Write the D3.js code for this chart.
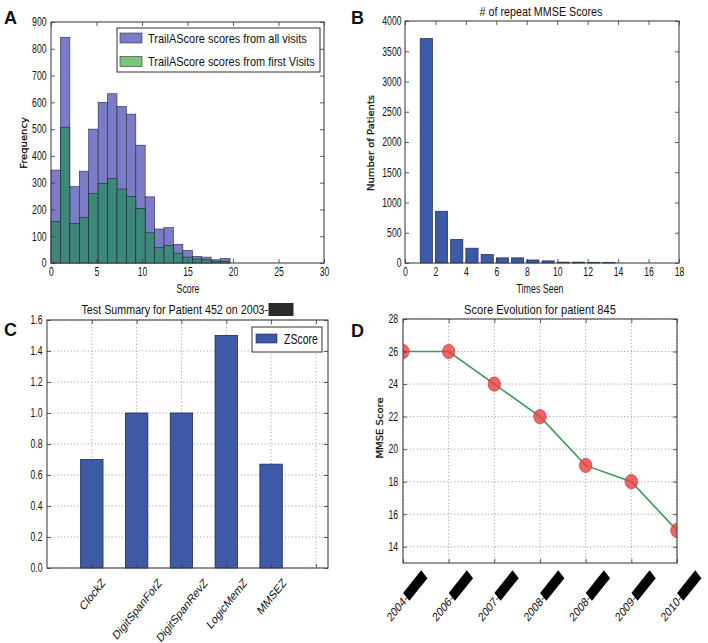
<!DOCTYPE html>
<html><head><meta charset="utf-8">
<script src="https://cdn.jsdelivr.net/npm/d3@7"></script>
<style>body{margin:0;background:#fff}svg{display:block}</style>
</head><body>
<svg id="chart" width="708" height="643"></svg>
<script>
// ---------------- DATA ----------------
const histEdges = [0,1.04,2.07,3.11,4.14,5.18,6.21,7.25,8.28,9.32,10.35,11.39,12.42,13.46,14.49,15.53,16.56,17.6,18.63,19.67];
const allVisits = [347,843,285,343,500,600,632,585,556,440,247,127,132,70,47,25,22,12,17];
const firstVisits = [155,507,148,170,260,297,316,276,248,204,113,57,66,37,22,15,12,7,7];
const histLegend = ["TrailAScore scores from all visits","TrailAScore scores from first Visits"];

const timesSeen = [1,2,3,4,5,6,7,8,9,10,11,12,13];
const patientCounts = [3710,855,390,245,140,85,85,50,35,15,15,12,10];

const tests = ["ClockZ","DigitSpanForZ","DigitSpanRevZ","LogicMemZ","MMSEZ"];
const zScores = [0.70,1.00,1.00,1.50,0.67];

const visitDates = ["2004-","2006-","2007-","2008-","2008-","2009-","2010-"];
const mmseScores = [26,26,24,22,19,18,15];

// ---------------- STYLE ----------------
const SANS = "'Liberation Sans',Arial,sans-serif";
const WIDE = "'DejaVu Sans',sans-serif";
const SX = 0.72;     // horizontal squash of the original figure
const RSX = 0.8;     // squash applied to rotated labels
const svg = d3.select("#chart");

function sqText(g, txt, x, y, size, anchor, target) {
  const t = g.append("text").attr("text-anchor", anchor).text(txt)
    .attr("font-family", SANS).attr("font-size", size + "px").attr("fill", "#111");
  let s = SX;
  if (target) { const L = t.node().getComputedTextLength(); if (L > 0) s = target / L; }
  t.attr("transform", `translate(${x},${y}) scale(${s},1)`);
  return t;
}
// rotated label of given visual height H (bbox), centred on the tick
function rotLabel(tickSel, t, L, extra, thick, top) {
  const T = L + extra;
  const H = (T + thick) / Math.SQRT2;
  const grp = tickSel.append("g").attr("transform", `translate(0,${top + H/2}) scale(${RSX},1) rotate(-45)`);
  grp.node().appendChild(t.node());
  t.attr("x", -T/2).attr("y", 0).attr("dy", "0.35em").attr("text-anchor", "start").attr("transform", null);
  return {grp, T};
}

function grid(g, x, y, xs, ys) {
  const [xa, xb] = x.range(), [yb, ya] = y.range();
  const gg = g.append("g");
  xs.forEach(t => gg.append("line").attr("x1", x(t)).attr("x2", x(t)).attr("y1", ya).attr("y2", yb));
  ys.forEach(t => gg.append("line").attr("x1", xa).attr("x2", xb).attr("y1", y(t)).attr("y2", y(t)));
  gg.selectAll("line").attr("stroke", "#a8a8a8").attr("stroke-width", 1).attr("stroke-dasharray", "1.2,2.2");
}
function axes(g, x, y, opt) {
  const [xa, xb] = x.range(), [yb, ya] = y.range();
  const bx = g.append("g").attr("transform", `translate(0,${yb})`)
    .call(d3.axisBottom(x).tickValues(opt.xTicks).tickSize(-4).tickPadding(4).tickFormat(opt.xFmt));
  const tx = g.append("g").attr("transform", `translate(0,${ya})`)
    .call(d3.axisTop(x).tickValues(opt.xTicks).tickSize(-4).tickFormat(""));
  const ly = g.append("g").attr("transform", `translate(${xa},0)`)
    .call(d3.axisLeft(y).tickValues(opt.yTicks).tickSize(-4).tickPadding(4).tickFormat(opt.yFmt));
  const ry = g.append("g").attr("transform", `translate(${xb},0)`)
    .call(d3.axisRight(y).tickValues(opt.yTicks).tickSize(-4).tickFormat(""));
  [bx, tx, ly, ry].forEach(a => {
    a.attr("font-size", null).attr("font-family", null);
    a.select(".domain").remove();
    a.selectAll(".tick line").attr("stroke", "#333").attr("stroke-width", 0.8);
    a.selectAll("text").attr("font-family", SANS).attr("font-size", "12px").attr("fill", "#111");
  });
  bx.selectAll(".tick text").attr("transform", `scale(${SX},1)`);
  ly.selectAll(".tick text").attr("x", -(opt.lpad || 4.5) / SX).attr("transform", `scale(${SX},1)`);
  g.append("rect").attr("x", xa).attr("y", ya).attr("width", xb - xa).attr("height", yb - ya)
    .attr("fill", "none").attr("stroke", "#444").attr("stroke-width", 1.1);
  return bx;
}
function letter(txt, x, y) {
  svg.append("text").attr("x", x).attr("y", y).text(txt)
    .attr("font-family", SANS).attr("font-weight", "bold").attr("font-size", "18px").attr("fill", "#111");
}
function yLabel(g, txt, x, y) {
  g.append("text").attr("transform", `translate(${x},${y}) scale(${RSX},1) rotate(-90)`).attr("text-anchor", "middle")
    .attr("dy", "0.35em").text(txt).attr("font-family", WIDE).attr("font-size", "10px").attr("fill", "#111")
    .attr("stroke", "#111").attr("stroke-width", 0.3);
}

// ---------------- PANEL A ----------------
{
  const g = svg.append("g");
  const x = d3.scaleLinear().domain([0, 30]).range([51, 324]);
  const y = d3.scaleLinear().domain([0, 900]).range([263, 22]);
  const bins = allVisits.map((v, i) => ({x0: histEdges[i], x1: histEdges[i+1], all: v, first: firstVisits[i]}));
  g.selectAll(".ba").data(bins).join("rect")
    .attr("x", d => x(d.x0)).attr("width", d => x(d.x1) - x(d.x0))
    .attr("y", d => y(d.all)).attr("height", d => y(0) - y(d.all))
    .attr("fill", "#7b7bc7").attr("stroke", "#2a2a40").attr("stroke-width", 0.6);
  g.selectAll(".bf").data(bins).join("rect")
    .attr("x", d => x(d.x0)).attr("width", d => x(d.x1) - x(d.x0))
    .attr("y", d => y(d.first)).attr("height", d => y(0) - y(d.first))
    .attr("fill", "#3e877b").attr("stroke", "#1a2a26").attr("stroke-width", 0.6);
  axes(g, x, y, {xTicks: d3.range(0, 31, 5), yTicks: d3.range(0, 901, 100), xFmt: d3.format("d"), yFmt: d3.format("d")});
  sqText(g, "Score", 188, 292.5, 12, "middle", 23);
  yLabel(g, "Frequency", 24, 143);
  const lg = g.append("g");
  lg.append("rect").attr("x", 117).attr("y", 28).attr("width", 203).attr("height", 44)
    .attr("fill", "#fff").attr("stroke", "#333").attr("stroke-width", 1);
  const lc = ["#7b7bc7", "#7cc47e"];
  const lw = [159, 167];
  histLegend.forEach((t, i) => {
    lg.append("rect").attr("x", 120).attr("y", 33 + i*23.5).attr("width", 22).attr("height", 10)
      .attr("fill", lc[i]).attr("stroke", "#333").attr("stroke-width", 0.6);
    sqText(lg, t, 148, 43.3 + i*22.4, 13, "start", lw[i]);
  });
  letter("A", 4, 24);
}

// ---------------- PANEL B ----------------
{
  const g = svg.append("g");
  const x = d3.scaleLinear().domain([0, 18]).range([405, 679]);
  const y = d3.scaleLinear().domain([0, 4000]).range([263, 21]);
  g.selectAll(".b").data(timesSeen).join("rect")
    .attr("x", (d) => x(d)).attr("width", x(0.8) - x(0))
    .attr("y", (d, i) => y(patientCounts[i])).attr("height", (d, i) => y(0) - y(patientCounts[i]))
    .attr("fill", "#3d5aa7").attr("stroke", "#1c2a55").attr("stroke-width", 0.7);
  axes(g, x, y, {xTicks: d3.range(0, 19, 2), yTicks: d3.range(0, 4001, 500), xFmt: d3.format("d"), yFmt: d3.format("d"), lpad: 3.5});
  sqText(g, "Times Seen", 540, 292.5, 12, "middle", 47);
  yLabel(g, "Number of Patients", 371, 143);
  sqText(g, "# of repeat MMSE Scores", 541, 15.5, 13, "middle", 123);
  letter("B", 351, 24);
}

// ---------------- PANEL C ----------------
{
  const g = svg.append("g");
  const x = d3.scaleLinear().domain([-1, 5.27]).range([47, 328]);
  const y = d3.scaleLinear().domain([0, 1.6]).range([568, 320]);
  const xt = [0, 1, 2, 3, 4, 5];
  grid(g, x, y, xt, d3.range(0, 1.61, 0.2));
  g.selectAll(".b").data(tests).join("rect")
    .attr("x", (d, i) => x(i - 0.25)).attr("width", x(0.5) - x(0))
    .attr("y", (d, i) => y(zScores[i])).attr("height", (d, i) => y(0) - y(zScores[i]))
    .attr("fill", "#3d5aa7").attr("stroke", "#1c2a55").attr("stroke-width", 0.8);
  const bx = axes(g, x, y, {xTicks: xt, yTicks: d3.range(0, 1.61, 0.2),
    xFmt: (d) => tests[d] || "", yFmt: d3.format(".1f")});
  bx.selectAll(".tick").each(function () {
    const tick = d3.select(this);
    const t = tick.select("text").attr("font-size", "12.5px").attr("transform", null);
    const L = t.node().getComputedTextLength();
    rotLabel(tick, t, L, 0, 10, 9);
  });
  const tg = g.append("g");
  sqText(tg, "Test Summary for Patient 452 on 2003-", 0, 314, 13, "start", 187);
  tg.attr("transform", `translate(${187.5 - (187 + 25) / 2},0)`);
  tg.append("rect").attr("x", 187).attr("y", 303).attr("width", 25).attr("height", 13).attr("fill", "#2a2a2a");
  g.append("rect").attr("x", 252).attr("y", 327).attr("width", 70).attr("height", 25)
    .attr("fill", "#fff").attr("stroke", "#333").attr("stroke-width", 1);
  g.append("rect").attr("x", 256).attr("y", 334).attr("width", 21).attr("height", 9)
    .attr("fill", "#3d5aa7").attr("stroke", "#1c2a55").attr("stroke-width", 0.6);
  sqText(g, "ZScore", 284, 344, 14, "start", 34);
  letter("C", 4, 336);
}

// ---------------- PANEL D ----------------
{
  const g = svg.append("g");
  const x = d3.scaleLinear().domain([0, 6]).range([403, 677]);
  const y = d3.scaleLinear().domain([13, 28]).range([563, 319]);
  const idx = d3.range(visitDates.length);
  grid(g, x, y, idx, d3.range(14, 29, 2));
  svg.append("defs").append("clipPath").attr("id", "clipD").append("rect")
    .attr("x", 403).attr("y", 319).attr("width", 274).attr("height", 244);
  const pg = g.append("g").attr("clip-path", "url(#clipD)");
  pg.append("path").datum(mmseScores)
    .attr("d", d3.line().x((d, i) => x(i)).y(d => y(d)))
    .attr("fill", "none").attr("stroke", "#3a9a5c").attr("stroke-width", 1.6);
  pg.selectAll("ellipse").data(mmseScores).join("ellipse")
    .attr("cx", (d, i) => x(i)).attr("cy", d => y(d)).attr("rx", 6.3).attr("ry", 7.2)
    .attr("fill", "#e8403f").attr("fill-opacity", 0.8).attr("stroke", "#c93030").attr("stroke-width", 0.6);
  const bx = axes(g, x, y, {xTicks: idx, yTicks: d3.range(14, 29, 2),
    xFmt: (d) => visitDates[d], yFmt: d3.format("d"), lpad: 5});
  const boxLen = 32, boxH = 11;
  bx.selectAll(".tick").each(function () {
    const tick = d3.select(this);
    const t = tick.select("text").attr("font-size", "12.5px").attr("transform", null);
    const L = t.node().getComputedTextLength();
    const r = rotLabel(tick, t, L, boxLen, boxH, 7);
    r.grp.attr("transform", r.grp.attr("transform").replace("translate(0,", "translate(3,"));
    r.grp.append("rect").attr("x", -r.T/2 + L - 0.5).attr("y", -boxH/2).attr("width", boxLen).attr("height", boxH).attr("fill", "#000");
  });
  sqText(g, "Score Evolution for patient 845", 540, 313.5, 13, "middle", 152);
  yLabel(g, "MMSE  Score", 380, 428);
  letter("D", 351, 337);
}
</script>
</body></html>
